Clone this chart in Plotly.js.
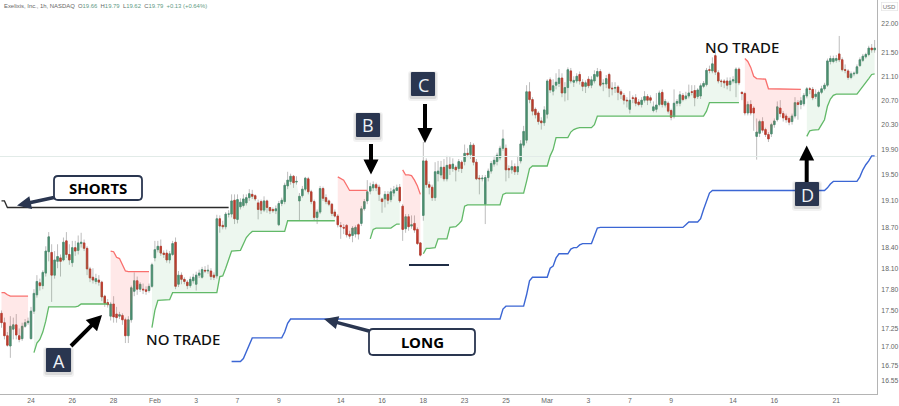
<!DOCTYPE html>
<html><head><meta charset="utf-8">
<script src="https://cdn.plot.ly/plotly-3.0.1.min.js"></script>
<style>html,body{margin:0;padding:0;background:#fff}#c{width:899px;height:406px}</style>
</head><body><div id="c"></div>
<script>
const opens=[
17.46,17.33,17.15,17.01,17.24,17.30,17.15,17.11,17.28,17.33,
17.11,17.49,17.72,17.89,17.85,18.03,18.34,18.33,18.00,18.20,
18.25,18.22,18.50,18.30,18.18,18.40,18.36,18.46,18.47,18.39,
18.09,17.97,17.91,17.93,17.90,17.70,17.61,17.42,17.59,17.45,
17.42,17.43,17.37,17.15,17.37,17.77,17.92,17.80,17.80,17.79,
17.78,17.84,18.25,18.37,18.42,18.32,18.32,18.22,18.30,18.48,
17.87,18.00,17.94,17.90,17.85,17.92,17.87,18.00,17.97,18.07,
18.06,18.06,18.00,17.99,18.83,18.73,18.71,18.90,18.90,19.11,
18.82,19.01,19.03,19.07,19.15,19.20,19.18,19.07,19.09,18.96,
19.10,19.00,18.97,18.95,18.74,19.06,19.09,19.33,19.40,19.48,
19.39,19.10,19.18,19.28,19.44,19.24,19.09,18.85,18.93,19.29,
19.15,19.10,19.05,18.93,18.87,18.73,18.70,18.73,18.60,18.58,
18.60,18.74,18.76,18.98,19.10,19.25,19.30,19.35,19.31,19.13,
19.13,19.20,19.12,19.22,19.26,19.31,19.02,18.68,18.86,18.72,
18.76,18.67,18.47,18.88,19.72,19.35,19.31,19.15,19.52,19.50,
19.62,19.44,19.66,19.60,19.62,19.60,19.70,19.71,19.84,19.82,
19.97,19.70,19.45,19.44,19.05,19.46,19.56,19.67,19.71,19.77,
19.92,19.92,19.60,19.58,19.63,19.55,19.72,19.97,20.05,20.84,
20.71,20.55,20.49,20.36,20.33,20.47,21.04,20.85,20.95,20.98,
21.07,20.82,20.91,21.19,21.00,21.02,21.13,21.00,20.93,21.05,
20.95,21.02,21.10,21.18,20.97,20.97,21.13,20.90,20.90,20.92,
20.84,20.78,20.70,20.55,20.74,20.74,20.67,20.63,20.70,20.76,
20.74,20.53,20.55,20.63,20.83,20.62,20.65,20.53,20.43,20.65,
20.65,20.78,20.73,20.77,20.84,20.86,20.76,20.77,20.93,20.96,
21.21,21.19,21.45,21.16,21.02,21.02,21.02,20.96,21.02,20.99,
21.22,20.83,20.81,20.49,20.63,20.57,20.11,20.16,20.35,20.22,
20.14,20.15,20.30,20.38,20.57,20.48,20.44,20.40,20.35,20.44,
20.66,20.63,20.64,20.77,20.89,20.88,20.76,20.60,20.83,20.89,
20.95,21.35,21.35,21.37,21.48,21.38,21.21,21.19,21.08,21.14,
21.15,21.28,21.37,21.43,21.47,21.58,21.55];
const highs=[
17.50,17.40,17.20,17.42,17.40,17.45,17.25,17.33,17.38,17.40,
17.55,17.80,18.00,17.95,18.07,18.42,18.63,18.45,18.35,18.45,
18.30,18.55,18.63,18.45,18.50,18.50,18.58,18.62,18.52,18.42,
18.12,18.10,18.02,18.00,17.92,17.72,17.66,17.62,17.70,17.55,
17.48,17.46,17.40,17.42,17.85,18.04,17.98,17.90,17.88,17.84,
17.88,18.18,18.50,18.50,18.52,18.36,18.37,18.35,18.50,18.55,
18.06,18.04,17.97,17.93,17.98,18.02,18.05,18.08,18.12,18.13,
18.15,18.10,18.04,18.89,18.88,18.80,18.93,18.96,19.20,19.20,
19.20,19.14,19.20,19.20,19.28,19.27,19.20,19.12,19.12,19.17,
19.12,19.00,19.00,19.03,19.10,19.15,19.38,19.55,19.52,19.50,
19.48,19.22,19.33,19.47,19.47,19.27,19.12,18.97,19.33,19.32,
19.20,19.12,19.07,18.97,18.90,18.78,18.75,18.75,18.65,18.72,
18.73,18.76,19.02,19.13,19.42,19.38,19.40,19.38,19.35,19.15,
19.25,19.25,19.30,19.33,19.35,19.36,19.05,18.90,18.90,18.88,
18.88,18.70,18.48,20.02,19.76,19.40,19.35,19.70,19.72,19.72,
19.75,19.80,19.78,19.76,19.65,19.75,19.73,19.98,19.92,20.02,
20.00,19.75,19.50,19.50,19.50,19.60,19.72,19.80,19.85,19.96,
20.22,19.98,19.65,19.73,19.68,19.80,20.05,20.28,20.95,21.00,
20.75,20.58,20.52,20.42,20.60,21.05,21.08,21.05,21.15,21.22,
21.15,21.00,21.25,21.24,21.10,21.15,21.18,21.05,21.03,21.10,
21.10,21.20,21.24,21.22,21.05,21.12,21.16,21.00,21.00,20.95,
20.88,20.82,20.75,20.85,20.78,20.80,20.72,20.75,20.85,20.80,
20.78,20.68,20.82,20.86,20.88,20.72,20.68,20.56,20.88,20.72,
20.85,20.82,20.84,20.96,20.95,20.95,20.90,20.98,21.02,21.24,
21.28,21.42,21.50,21.20,21.05,21.05,21.08,21.08,21.10,21.25,
21.25,20.85,20.84,20.68,20.70,20.60,20.40,20.38,20.42,20.25,
20.18,20.33,20.40,20.68,20.70,20.52,20.48,20.43,20.48,20.75,
20.70,20.75,20.82,20.92,20.92,20.92,20.88,20.86,20.94,20.99,
21.40,21.45,21.45,21.46,21.79,21.42,21.30,21.22,21.18,21.18,
21.30,21.42,21.48,21.50,21.62,21.65,21.72];
const lows=[
17.26,17.10,17.00,16.85,17.10,17.10,17.06,17.08,17.26,17.30,
17.10,17.45,17.68,17.78,17.80,17.98,18.20,17.62,17.95,18.10,
17.98,18.20,18.25,18.15,18.12,18.28,18.30,18.40,18.35,18.00,
17.90,17.88,17.87,17.85,17.63,17.55,17.54,17.36,17.33,17.33,
17.38,17.30,17.05,17.05,17.33,17.70,17.72,17.76,17.73,17.72,
17.75,17.82,18.20,18.33,18.28,18.25,18.18,18.17,18.28,17.80,
17.83,17.87,17.87,17.80,17.82,17.88,17.78,17.96,17.95,18.03,
18.02,17.93,17.93,17.95,18.62,18.67,18.67,18.85,18.85,18.75,
18.76,18.97,19.00,19.03,19.10,19.13,19.10,18.82,18.90,18.93,
18.92,18.90,18.92,18.90,18.72,19.02,19.05,19.28,19.35,19.30,
19.35,18.80,19.15,19.25,19.20,19.05,18.80,18.75,18.90,19.10,
19.05,19.02,18.87,18.85,18.70,18.53,18.60,18.55,18.53,18.48,
18.55,18.52,18.72,18.95,19.05,19.20,19.25,19.25,19.10,18.92,
19.00,19.05,19.08,19.17,19.25,19.07,18.50,18.62,18.65,18.68,
18.62,18.44,18.27,18.80,19.30,19.20,19.10,19.10,19.40,19.45,
19.40,19.40,19.50,19.55,19.40,19.55,19.53,19.65,19.78,19.75,
19.65,19.42,19.20,19.40,18.75,19.40,19.52,19.63,19.65,19.73,
19.88,19.40,19.45,19.52,19.50,19.50,19.68,19.93,20.00,20.65,
20.45,20.40,20.30,20.22,20.28,20.40,20.82,20.78,20.88,20.92,
20.75,20.68,20.70,20.98,20.92,20.98,20.96,20.85,20.82,20.90,
20.90,20.98,21.08,20.92,20.85,20.90,20.75,20.78,20.82,20.70,
20.72,20.63,20.58,20.48,20.65,20.60,20.60,20.58,20.66,20.62,
20.65,20.50,20.50,20.60,20.58,20.58,20.48,20.37,20.40,20.60,
20.60,20.68,20.70,20.73,20.78,20.60,20.72,20.72,20.90,20.93,
21.15,21.15,21.12,20.98,20.92,20.90,20.88,20.85,20.98,20.75,
20.95,20.70,20.45,20.45,20.45,20.20,19.74,20.10,20.17,20.10,
20.02,20.10,20.25,20.35,20.42,20.35,20.33,20.29,20.30,20.40,
20.38,20.55,20.60,20.73,20.80,20.70,20.72,20.58,20.80,20.86,
20.92,21.30,21.32,21.33,21.34,21.18,21.15,21.04,21.05,21.10,
21.13,21.26,21.34,21.40,21.44,21.50,21.50];
const closes=[
17.33,17.15,17.02,17.28,17.30,17.16,17.10,17.28,17.33,17.35,
17.49,17.74,17.91,17.85,18.04,18.35,18.56,18.00,18.22,18.27,
18.20,18.48,18.30,18.22,18.40,18.35,18.47,18.48,18.39,18.09,
17.96,17.93,17.95,17.90,17.69,17.60,17.58,17.59,17.41,17.40,
17.44,17.37,17.15,17.37,17.82,17.92,17.80,17.87,17.79,17.77,
17.84,18.15,18.37,18.42,18.32,18.30,18.22,18.31,18.46,17.84,
18.00,17.94,17.91,17.85,17.94,17.97,18.00,18.03,18.08,18.06,
18.07,17.98,17.97,18.83,18.72,18.71,18.90,18.90,19.10,18.83,
19.12,19.08,19.13,19.15,19.21,19.17,19.13,18.97,18.96,19.10,
19.00,18.95,18.95,18.98,19.06,19.11,19.34,19.42,19.48,19.38,
19.40,19.17,19.28,19.45,19.24,19.09,18.85,18.93,19.29,19.14,
19.09,19.05,18.91,18.87,18.74,18.71,18.69,18.59,18.57,18.69,
18.70,18.60,18.98,19.09,19.24,19.32,19.35,19.30,19.20,19.09,
19.20,19.11,19.24,19.27,19.30,19.10,18.67,18.86,18.71,18.74,
18.66,18.46,18.29,19.72,19.35,19.31,19.15,19.55,19.56,19.62,
19.44,19.65,19.60,19.67,19.58,19.71,19.60,19.84,19.82,19.97,
19.70,19.44,19.44,19.45,19.46,19.56,19.68,19.73,19.81,19.92,
20.07,19.58,19.58,19.63,19.55,19.63,19.99,20.19,20.84,20.71,
20.52,20.46,20.35,20.33,20.54,21.02,20.87,20.94,21.00,21.07,
20.82,20.91,21.21,21.02,21.03,21.10,21.02,20.93,20.99,20.94,
21.04,21.13,21.18,20.95,20.98,21.06,20.90,20.89,20.91,20.83,
20.80,20.70,20.69,20.70,20.73,20.65,20.63,20.70,20.76,20.70,
20.70,20.59,20.62,20.82,20.63,20.68,20.52,20.42,20.65,20.68,
20.79,20.71,20.77,20.82,20.83,20.74,20.87,20.94,20.98,21.20,
21.20,21.31,21.17,21.02,21.01,20.99,20.95,21.02,21.04,21.22,
20.99,20.81,20.49,20.63,20.49,20.49,20.18,20.35,20.21,20.14,
20.07,20.30,20.36,20.59,20.48,20.41,20.38,20.34,20.44,20.66,
20.63,20.69,20.78,20.89,20.88,20.74,20.80,20.83,20.89,20.95,
21.36,21.40,21.40,21.40,21.38,21.21,21.20,21.08,21.14,21.15,
21.26,21.38,21.44,21.47,21.58,21.55,21.58];

const red1Bars=[0,1,2,3,9], red1Vals=[17.75,17.75,17.72,17.70,17.70];
const green1Bars=[11,12,13,14,15,16,25,26,27,36], green1Vals=[16.92,17.05,17.10,17.20,17.35,17.55,17.55,17.56,17.59,17.59];
const red2Bars=[37,38,39,40,41,42,43,50], red2Vals=[18.35,18.34,18.26,18.24,18.15,18.06,18.05,18.05];
const green2Bars=[51,52,53,57,58,73,74,75,76,77,78,81,82,83,84,85,96,97,113];
const green2Vals=[17.26,17.50,17.64,17.65,17.75,17.75,17.98,17.99,18.10,18.22,18.35,18.36,18.45,18.55,18.60,18.64,18.64,18.80,18.80];
const red3Bars=[114,115,116,117,118,124], red3Vals=[19.47,19.44,19.42,19.34,19.26,19.26];
const green3Bars=[125,126,127,132,133,134,135], green3Vals=[18.53,18.67,18.69,18.69,18.72,18.75,18.75];
const red4Bars=[136,137,138,139,140,141,142], red4Vals=[19.58,19.50,19.50,19.49,19.42,19.33,19.20];
const green4Bars=[143,144,145,146,147,148,151,152,153,154,155,156,157,158,169,170,171,177,178,179,180,185,186,187,188,192,193,194,195,196,200,201,202,238,239,240,250];
const green4Vals=[18.31,18.39,18.39,18.40,18.40,18.53,18.53,18.70,18.70,18.71,18.75,18.80,19.02,19.04,19.04,19.20,19.22,19.22,19.40,19.60,19.64,19.64,19.80,19.90,20.09,20.09,20.18,20.22,20.24,20.25,20.25,20.30,20.44,20.44,20.52,20.66,20.66];
const red5Bars=[252,253,254,255,256,258,259,260,271], red5Vals=[21.40,21.35,21.25,21.10,21.06,21.06,21.05,20.89,20.88];
const green5Bars=[273,274,275,277,278,279,280,281,282,283,290,291,292,293,294,295,296];
const green5Vals=[20.11,20.20,20.21,20.22,20.30,20.38,20.60,20.72,20.78,20.80,20.80,20.86,20.93,21.00,21.06,21.13,21.14];

const shortBars=[0,1,2,77], shortVals=[19.10,19.10,19.00,19.00];
const longBars=[78,81,82,83,84,85,95,96,97,98,169,170,171,177,178,179,180,185,186,187,188,189,192,193,194,195,196,197,200,201,202,203,231,232,233,236,237,238,239,240,241,279,280,281,282,290,291,292,293,294,295,296];
const longVals=[16.80,16.80,16.84,16.93,17.03,17.12,17.12,17.20,17.32,17.38,17.38,17.52,17.56,17.56,17.72,17.92,17.97,17.97,18.10,18.13,18.25,18.31,18.31,18.38,18.40,18.40,18.44,18.46,18.46,18.58,18.69,18.70,18.70,18.74,18.78,18.78,18.83,18.97,19.10,19.22,19.26,19.26,19.30,19.36,19.40,19.40,19.47,19.58,19.66,19.72,19.80,19.80];
const lastPrice=19.79;

const yTicks=[22.00,21.50,21.10,20.70,20.30,19.90,19.50,19.10,18.70,18.40,18.10,17.80,17.50,17.25,17.00,16.75,16.55];
const xTickBars=[10,24,38,52,66,80,94,115,129,143,157,171,185,199,213,227,248,262,283];
const xTickText=['24','26','28','Feb','3','7','9','14','16','18','23','25','Mar','3','7','9','14','16','21'];

const barIdx=opens.map((_,i)=>i);
const xRange=[-0.51,296.8];
const W=877,H=394;
const X=v=>v/W, Y=v=>1-v/H;
const GREEN='#4a8d70', RED='#bb3a2c', NAVY='#2a3650';
const traces=[];

function band(bars,vals,line,fill){
  const back=[],backY=[];
  for(let i=bars[bars.length-1];i>=bars[0];i--){back.push(i);backY.push((opens[i]+closes[i])/2);}
  traces.push({type:'scatter',mode:'none',x:bars.concat(back),y:vals.concat(backY),fill:'toself',fillcolor:fill,hoverinfo:'skip'});
  return {type:'scatter',mode:'lines',x:bars,y:vals,line:{color:line,width:1.3},hoverinfo:'skip'};
}
const gf='rgba(90,185,110,0.11)', rf='rgba(255,90,90,0.14)', gl='#62b968', rl='#f9706e';
const lines=[
 band(red1Bars,red1Vals,rl,rf),band(green1Bars,green1Vals,gl,gf),
 band(red2Bars,red2Vals,rl,rf),band(green2Bars,green2Vals,gl,gf),
 band(red3Bars,red3Vals,rl,rf),band(green3Bars,green3Vals,gl,gf),
 band(red4Bars,red4Vals,rl,rf),band(green4Bars,green4Vals,gl,gf),
 band(red5Bars,red5Vals,rl,rf),band(green5Bars,green5Vals,gl,gf)
];
traces.push({type:'scatter',mode:'lines',x:xRange,y:[lastPrice,lastPrice],line:{color:'#e2ebe8',width:1},hoverinfo:'skip'});
traces.push({type:'candlestick',x:barIdx,open:opens,high:highs,low:lows,close:closes,whiskerwidth:0,
  increasing:{line:{color:'#bdbdbd',width:1},fillcolor:'#bdbdbd'},decreasing:{line:{color:'#bdbdbd',width:1},fillcolor:'#bdbdbd'},hoverinfo:'skip'});
traces.push({type:'candlestick',x:barIdx,open:opens,close:closes,
  high:opens.map((o,i)=>Math.max(o,closes[i])),low:opens.map((o,i)=>Math.min(o,closes[i])),whiskerwidth:0,
  increasing:{line:{color:GREEN,width:0.8},fillcolor:GREEN},decreasing:{line:{color:RED,width:0.8},fillcolor:RED},hoverinfo:'skip'});
lines.forEach(t=>traces.push(t));
traces.push({type:'scatter',mode:'lines',x:shortBars,y:shortVals,line:{color:'#2b2b2b',width:1.3},hoverinfo:'skip'});
traces.push({type:'scatter',mode:'lines',x:longBars,y:longVals,line:{color:'#3b66d4',width:1.4},hoverinfo:'skip'});

const shapes=[], ann=[];
function poly(pts,color){
  const d=pts.map((p,i)=>(i?'L':'M')+X(p[0]).toFixed(5)+' '+Y(p[1]).toFixed(5)).join(' ')+' Z';
  shapes.push({type:'path',xref:'paper',yref:'paper',path:d,fillcolor:color,line:{width:0}});
}
function arrow(x0,y0,x1,y1,w,hw,hl,color){
  const L=Math.hypot(x1-x0,y1-y0),ux=(x1-x0)/L,uy=(y1-y0)/L,nx=-uy,ny=ux;
  const bx=x1-ux*hl,by=y1-uy*hl;
  poly([[x0+nx*w/2,y0+ny*w/2],[bx+nx*w/2,by+ny*w/2],[bx+nx*hw/2,by+ny*hw/2],[x1,y1],
        [bx-nx*hw/2,by-ny*hw/2],[bx-nx*w/2,by-ny*w/2],[x0-nx*w/2,y0-ny*w/2]],color);
}
function rrect(x0,y0,x1,y1,r,fill,line,lw){
  const P=(a,b)=>X(a).toFixed(5)+' '+Y(b).toFixed(5);
  const d=`M${P(x0+r,y0)} L${P(x1-r,y0)} Q${P(x1,y0)} ${P(x1,y0+r)} L${P(x1,y1-r)} Q${P(x1,y1)} ${P(x1-r,y1)} L${P(x0+r,y1)} Q${P(x0,y1)} ${P(x0,y1-r)} L${P(x0,y0+r)} Q${P(x0,y0)} ${P(x0+r,y0)} Z`;
  shapes.push({type:'path',xref:'paper',yref:'paper',path:d,fillcolor:fill,line:line?{color:line,width:lw}:{width:0}});
}
function text(x,y,t,size,color,weight,family){
  ann.push({xref:'paper',yref:'paper',x:X(x),y:Y(y),text:t,showarrow:false,xanchor:'center',yanchor:'middle',
    font:{size:size,color:color,weight:weight||400,family:family||'Noto Sans'}});
}
function tag(x0,y0,x1,y1,t){
  rrect(x0-3,y0-1,x1+3,y1+5,3,'rgba(0,0,0,0.05)');
  rrect(x0-1.5,y0,x1+1.5,y1+3,2,'rgba(0,0,0,0.10)');
  rrect(x0,y0,x1,y1,1,NAVY);
  text((x0+x1)/2,(y0+y1)/2+0.5,t,18,'#eef2f7',400,'Open Sans');
}
function box(x0,y0,x1,y1,t){
  rrect(x0,y0,x1,y1,4,'#ffffff',NAVY,1.8);
  text((x0+x1)/2,(y0+y1)/2,t,15,'#000000',700,'Noto Sans');
}
arrow(54,197.5,17,205.5,3.5,13,14,NAVY);
box(54,176,142,200,'SHORTS');
arrow(369,331,324,319,3.5,13,14,NAVY);
box(369,329,475,355,'LONG');
arrow(71,346,102,315,4,16,15,'#000000');
arrow(371,144,371,174.5,4,15,15,'#000000');
arrow(425,104,425,143,4,15,15,'#000000');
arrow(806.7,182,806.7,145.5,4,15,15,'#000000');
tag(46,348,71,372,'A');
tag(356,113,380,137,'B');
tag(411,72,435,96,'C');
tag(795,182,819,206,'D');
rrect(409,264,449,266,0,'#1f2d46');
text(182.5,338.5,'NO TRADE',15,'#111111',500,'Noto Sans');
text(742,46.5,'NO TRADE',15,'#111111',500,'Noto Sans');

const g='#5f9b85', n='#666666';
ann.push({xref:'paper',yref:'paper',x:X(2),y:Y(6),xanchor:'left',yanchor:'middle',showarrow:false,
  font:{size:5.9,color:n,family:'Liberation Sans'},
  text:`Exelixis, Inc., 1h, NASDAQ  O<span style="color:${g}">19.66</span>  H<span style="color:${g}">19.79</span>  L<span style="color:${g}">19.62</span>  C<span style="color:${g}">19.79</span>  <span style="color:${g}">+0.13 (+0.64%)</span>`});
ann.push({xref:'paper',yref:'paper',x:X(889.5),y:Y(6.5),xanchor:'center',yanchor:'middle',showarrow:false,
  font:{size:6,color:'#777',family:'Liberation Sans'},text:'USD',bordercolor:'#e4e4e4',borderwidth:0.7,borderpad:1});

const layout={
  width:899,height:406,margin:{l:0,r:22,t:0,b:12,pad:0},
  paper_bgcolor:'#fff',plot_bgcolor:'#fff',showlegend:false,hovermode:false,
  xaxis:{range:xRange,type:'linear',showgrid:false,zeroline:false,rangeslider:{visible:false},
    tickmode:'array',tickvals:xTickBars,ticktext:xTickText,ticks:'',showline:true,linecolor:'#b4b4b4',linewidth:1,
    tickfont:{size:6.8,color:'#666',family:'Liberation Sans'},automargin:false},
  yaxis:{type:'log',range:[Math.log10(16.37),Math.log10(22.425)],side:'right',showgrid:false,zeroline:false,
    tickmode:'array',tickvals:yTicks,ticktext:yTicks.map(v=>v.toFixed(2)),ticks:'',showline:true,linecolor:'#b4b4b4',linewidth:1,
    tickfont:{size:6.8,color:'#666',family:'Liberation Sans'},ticklabelstandoff:2,automargin:false},
  shapes:shapes,annotations:ann
};
Plotly.newPlot('c',traces,layout,{staticPlot:true,displayModeBar:false});
</script></body></html>
